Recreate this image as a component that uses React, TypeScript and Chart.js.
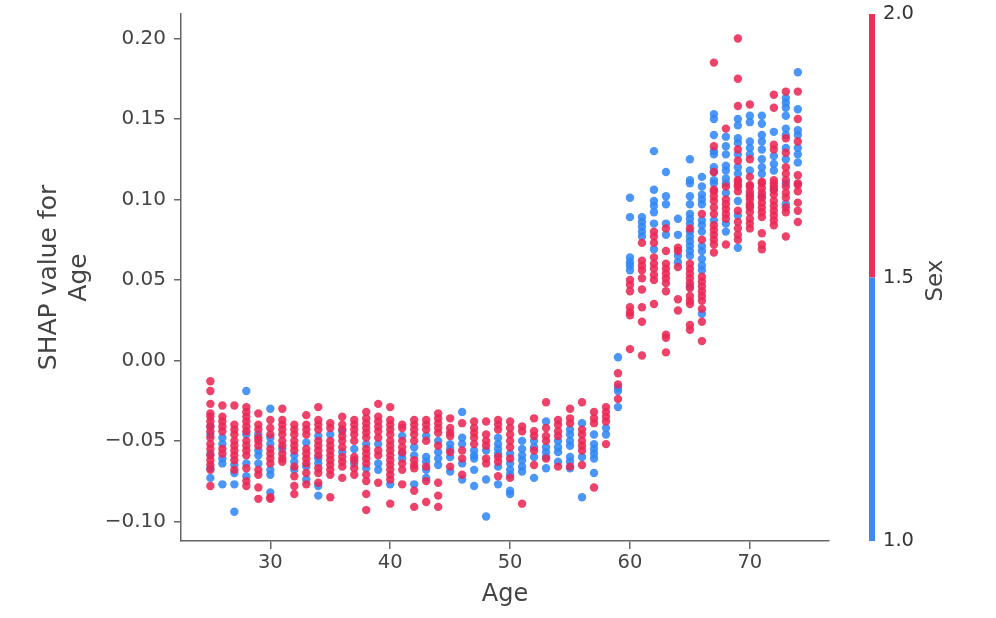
import React, { useEffect, useRef } from "react";
import { Chart, registerables } from "chart.js";

Chart.register(...registerables);

const FONT = "'DejaVu Sans', sans-serif";
const TEXT = "#444444";
const AXIS = "#666666";
const RED = "rgba(235,40,85,0.88)";
const BLUE = "rgba(50,135,245,0.88)";
const RED_BAR = "#ee2f5c";
const BLUE_BAR = "#3d8bf2";

const xTicks = [30, 40, 50, 60, 70];
const yTicks = [-0.1, -0.05, 0, 0.05, 0.1, 0.15, 0.2];
const barTicks = [1, 1.5, 2];

const ages = [25, 26, 27, 28, 29, 30, 31, 32, 33, 34, 35, 36, 37, 38, 39, 40, 41, 42, 43, 44, 45, 46, 47, 48, 49, 50, 51, 52, 53, 54, 55, 56, 57, 58, 59, 60, 61, 62, 63, 64, 65, 66, 67, 68, 69, 70, 71, 72, 73, 74];

const redShap = [
  [-.013, -.019, -.027, -.033, -.035, -.038, -.041, -.044, -.048, -.052, -.055, -.059, -.062, -.065, -.068, -.078],
  [-.028, -.035, -.038, -.041, -.044, -.055, -.058],
  [-.028, -.04, -.043, -.046, -.05, -.053, -.056, -.059, -.062, -.068],
  [-.029, -.032, -.035, -.038, -.041, -.044, -.05, -.053, -.056, -.059, -.067, -.075, -.078],
  [-.033, -.04, -.043, -.048, -.05, -.053, -.068, -.071, -.079, -.086],
  [-.037, -.042, -.046, -.055, -.058, -.061, -.064, -.085, -.086],
  [-.03, -.037, -.04, -.043, -.046, -.05, -.053, -.058, -.061, -.063],
  [-.04, -.043, -.046, -.05, -.053, -.056, -.066, -.072, -.078, -.083],
  [-.034, -.04, -.043, -.046, -.055, -.058, -.061, -.064, -.07, -.077],
  [-.029, -.037, -.04, -.043, -.05, -.053, -.056, -.059, -.067, -.07, -.076],
  [-.039, -.042, -.05, -.053, -.056, -.059, -.062, -.065, -.068, -.071, -.085],
  [-.035, -.04, -.043, -.047, -.05, -.054, -.06, -.063, -.066, -.073],
  [-.037, -.04, -.043, -.046, -.05, -.06, -.062, -.067, -.071],
  [-.032, -.036, -.039, -.042, -.045, -.048, -.055, -.058, -.061, -.064, -.071, -.075, -.083, -.093],
  [-.027, -.035, -.038, -.041, -.044, -.048, -.056, -.059, -.076],
  [-.029, -.037, -.04, -.043, -.046, -.05, -.053, -.056, -.059, -.062, -.065, -.068, -.071, -.074, -.089],
  [-.04, -.042, -.05, -.054, -.057, -.064, -.068, -.077],
  [-.037, -.04, -.043, -.046, -.05, -.062, -.065, -.067, -.081, -.091],
  [-.037, -.04, -.043, -.05, -.066, -.075, -.088],
  [-.033, -.036, -.039, -.042, -.045, -.053, -.076, -.084, -.091],
  [-.036, -.042, -.045, -.047, -.057, -.066],
  [-.039, -.056, -.061, -.071],
  [-.038, -.042, -.045, -.048, -.052],
  [-.038, -.046, -.05, -.053, -.061, -.064],
  [-.037, -.04, -.043, -.06, -.063, -.072],
  [-.038, -.042, -.046, -.05, -.054, -.061, -.073],
  [-.041, -.044, -.089],
  [-.036, -.044, -.047, -.056, -.065],
  [-.026, -.042, -.047, -.05, -.061],
  [-.037, -.04, -.044, -.047, -.066],
  [-.03, -.036, -.039, -.066],
  [-.026, -.043, -.046, -.05, -.053, -.056, -.065],
  [-.032, -.036, -.039, -.079],
  [-.029, -.032, -.035, -.038, -.052],
  [-.008, -.015, -.024],
  [.05, .047, .043, .033, .03, .028, .007],
  [.073, .062, .059, .056, .051, .044, .033, .024, .003],
  [.08, .077, .073, .064, .06, .057, .053, .05, .035],
  [.082, .068, .06, .057, .054, .051, .048, .043, .016, .014, .005],
  [.07, .068, .058, .038, .031],
  [.082, .06, .057, .054, .051, .048, .045, .04, .037, .035, .022, .019],
  [.091, .075, .052, .049, .046, .043, .04, .037, .032, .024, .012],
  [.185, .133, .117, .106, .105, .102, .099, .095, .091, .084, .081, .078, .075, .072, .067],
  [.144, .108, .1, .097, .094, .091, .088, .072],
  [.2, .175, .158, .131, .124, .112, .109, .111, .108, .105, .093, .086, .082, .078, .075],
  [.159, .125, .114, .109, .108, .105, .102, .1, .097, .095, .092, .088, .085, .082],
  [.111, .11, .107, .104, .101, .098, .095, .092, .089, .079, .072, .069],
  [.165, .157, .134, .131, .112, .11, .108, .106, .103, .099, .096, .093, .09, .087, .084],
  [.167, .138, .129, .12, .116, .112, .108, .104, .101, .095, .092, .077],
  [.167, .15, .136, .115, .11, .109, .105, .098, .093, .086],
];

const blueShap = [
  [-.041, -.046, -.058, -.067, -.073],
  [-.048, -.052, -.061, -.064, -.077],
  [-.065, -.07, -.077, -.094],
  [-.019, -.046, -.064, -.072],
  [-.046, -.056, -.059, -.064],
  [-.03, -.048, -.052, -.068, -.071, -.082],
  [-.055],
  [-.059, -.063, -.068],
  [-.051, -.066, -.074],
  [-.047, -.061, -.064, -.078, -.084],
  [-.046],
  [-.044, -.057],
  [-.055, -.064],
  [-.052, -.067],
  [-.052, -.064, -.068],
  [-.077],
  [-.047, -.058, -.061],
  [-.054, -.059, -.077],
  [-.047, -.06, -.063, -.068, -.073],
  [-.05, -.057, -.061, -.065],
  [-.052, -.055, -.06, -.069],
  [-.032, -.048, -.052, -.064, -.074],
  [-.056, -.059, -.061, -.068, -.078],
  [-.056, -.074, -.097],
  [-.048, -.052, -.055, -.058, -.066, -.077],
  [-.058, -.064, -.068, -.071, -.081, -.083],
  [-.05, -.055, -.059, -.062, -.066, -.069],
  [-.05, -.054, -.06, -.073],
  [-.038, -.054, -.057, -.06, -.067],
  [-.05, -.054, -.057, -.063],
  [-.043, -.046, -.05, -.053, -.06, -.063, -.067],
  [-.039, -.06, -.085],
  [-.046, -.052, -.055, -.058, -.061, -.07],
  [-.042, -.046],
  [.002, -.017, -.019, -.029],
  [.101, .089, .064, .061, .059, .056],
  [.089, .086, .083, .08, .077],
  [.13, .106, .099, .096, .092, .085, .069],
  [.117, .102, .097, .085, .078],
  [.088, .078, .065, .061],
  [.125, .112, .11, .102, .097, .091, .088, .085, .08, .077, .074, .071, .068, .065, .046],
  [.114, .108, .103, .1, .097, .087, .084, .08, .071, .068, .063, .059, .056, .029],
  [.153, .15, .14, .13, .128, .12, .117, .112, .11, .087],
  [.139, .133, .128, .121, .118, .113, .11, .104, .085, .08],
  [.15, .146, .138, .135, .128, .12, .116, .099, .09, .07],
  [.152, .148, .136, .132, .128, .118, .103, .096],
  [.152, .147, .14, .136, .131, .125, .12, .116, .102],
  [.142, .127, .122, .118, .106],
  [.163, .16, .157, .152, .144, .14, .132, .125, .11, .097],
  [.179, .156, .143, .14, .132, .128, .123],
];

const toPoints = (table: number[][]) =>
  table.flatMap((values, i) => values.map((y) => ({ x: ages[i], y })));

const noAxisMargins = (s: any) => {
  s.paddingTop = 0;
  s.paddingBottom = 0;
  s.paddingLeft = 0;
  s.paddingRight = 0;
};

const colorBar = {
  id: "colorBar",
  afterDraw(chart: any) {
    const scale = chart.scales.yBar;
    const { ctx } = chart;
    const left = chart.chartArea.right + 40;
    const width = 6;
    const mid = scale.getPixelForValue(barTicks[1]);
    ctx.save();
    ctx.fillStyle = RED_BAR;
    ctx.fillRect(left, scale.getPixelForValue(barTicks[2]), width, mid - scale.getPixelForValue(barTicks[2]));
    ctx.fillStyle = BLUE_BAR;
    ctx.fillRect(left, mid, width, scale.getPixelForValue(barTicks[0]) - mid);
    ctx.font = `23px ${FONT}`;
    ctx.fillStyle = TEXT;
    ctx.textAlign = "center";
    ctx.textBaseline = "middle";
    ctx.translate(chart.chartArea.right + 107, scale.getPixelForValue(barTicks[1]) + 3);
    ctx.rotate(-Math.PI / 2);
    ctx.fillText("Sex", 0, 0);
    ctx.restore();
  },
};

export default function App() {
  const ref = useRef<HTMLCanvasElement>(null);
  useEffect(() => {
    const chart = new Chart(ref.current as HTMLCanvasElement, {
      type: "scatter",
      data: {
        datasets: [
          { label: "Sex 2", data: toPoints(redShap), backgroundColor: RED, borderWidth: 0, pointRadius: 4.2, clip: false },
          { label: "Sex 1", data: toPoints(blueShap), backgroundColor: BLUE, borderWidth: 0, pointRadius: 4.2, clip: false },
        ],
      },
      options: {
        animation: false,
        responsive: false,
        devicePixelRatio: 1,
        layout: { padding: { top: 14, left: 0, right: 0, bottom: 0 } },
        plugins: { legend: { display: false }, tooltip: { enabled: false } },
        scales: {
          x: {
            type: "linear",
            min: 22.55,
            max: 76.6,
            afterBuildTicks: (s: any) => { s.ticks = xTicks.map((value) => ({ value })); },
            afterFit: (s: any) => { s.height = 77; noAxisMargins(s); },
            grid: { display: true, drawOnChartArea: false, drawTicks: true, tickLength: 8, color: AXIS, lineWidth: 1.5 },
            border: { display: true, color: AXIS, width: 1.5 },
            ticks: { color: TEXT, font: { family: FONT, size: 19.5 }, padding: 2, maxRotation: 0, autoSkip: false },
            title: { display: true, text: "Age", color: TEXT, font: { family: FONT, size: 24 }, padding: { top: 0, bottom: 9 } },
          },
          y: {
            type: "linear",
            position: "left",
            min: -0.1122,
            max: 0.2152,
            afterBuildTicks: (s: any) => { s.ticks = yTicks.map((value) => ({ value })); },
            afterFit: (s: any) => { s.width = 181; noAxisMargins(s); },
            grid: { display: true, drawOnChartArea: false, drawTicks: true, tickLength: 7, color: AXIS, lineWidth: 1.5 },
            border: { display: true, color: AXIS, width: 1.5 },
            ticks: {
              color: TEXT,
              font: { family: FONT, size: 20 },
              padding: 8,
              autoSkip: false,
              callback: (v: any) => Number(v).toFixed(2).replace("-", "\u2212"),
            },
            title: { display: true, text: ["SHAP value for", "Age"], color: TEXT, font: { family: FONT, size: 25, lineHeight: 1.2 }, padding: { top: 34, bottom: 0 } },
          },
          yBar: {
            type: "linear",
            position: "right",
            min: 1,
            max: 2,
            afterBuildTicks: (s: any) => { s.ticks = barTicks.map((value) => ({ value })); },
            afterFit: (s: any) => { s.width = 167; noAxisMargins(s); },
            grid: { display: false, drawTicks: false },
            border: { display: false },
            ticks: {
              color: "#333333",
              font: { family: FONT, size: 19.5 },
              padding: 54,
              autoSkip: false,
              callback: (v: any) => Number(v).toFixed(1),
            },
          },
        },
      },
      plugins: [colorBar],
    } as any);
    return () => chart.destroy();
  }, []);
  return (
    <canvas
      ref={ref}
      width={996}
      height={618}
      style={{ position: "absolute", left: 0, top: 0, display: "block", width: 996, height: 618, filter: "blur(0.5px)" }}
    />
  );
}
